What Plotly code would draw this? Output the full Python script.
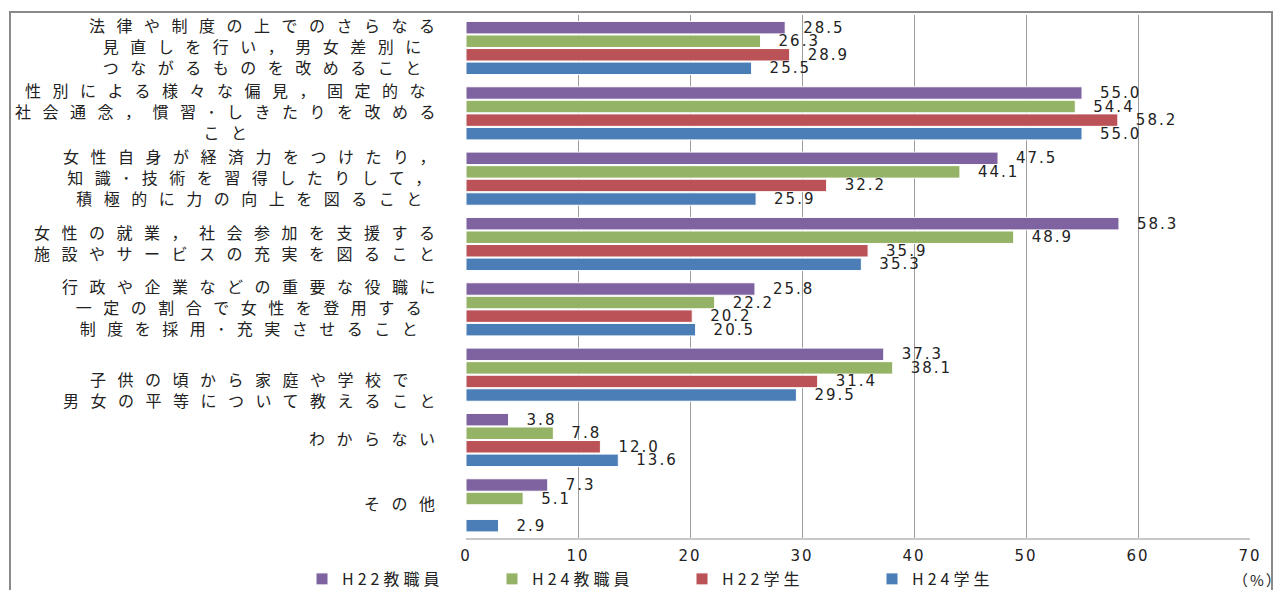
import plotly.graph_objects as go

categories = [
    "法律や制度の上でのさらなる<br>見直しを行い，男女差別に<br>つながるものを改めること",
    "性別による様々な偏見，固定的な<br>社会通念，慣習･しきたりを改める<br>こと",
    "女性自身が経済力をつけたり，<br>知識･技術を習得したりして，<br>積極的に力の向上を図ること",
    "女性の就業，社会参加を支援する<br>施設やサービスの充実を図ること",
    "行政や企業などの重要な役職に<br>一定の割合で女性を登用する<br>制度を採用･充実させること",
    "子供の頃から家庭や学校で<br>男女の平等について教えること",
    "わからない",
    "その他",
]

series_names = ["H22教職員", "H24教職員", "H22学生", "H24学生"]
h22_staff = [28.5, 55.0, 47.5, 58.3, 25.8, 37.3, 3.8, 7.3]
h24_staff = [26.3, 54.4, 44.1, 48.9, 22.2, 38.1, 7.8, 5.1]
h22_student = [28.9, 58.2, 32.2, 35.9, 20.2, 31.4, 12.0, None]
h24_student = [25.5, 55.0, 25.9, 35.3, 20.5, 29.5, 13.6, 2.9]
series_values = [h22_staff, h24_staff, h22_student, h24_student]
colors = ["#7F63A0", "#95B366", "#BA5257", "#4B7DB6"]

x_ticks = [0, 10, 20, 30, 40, 50, 60, 70]
x_tick_labels = [str(v) for v in x_ticks]
unit_label = "（%）"

W, H = 1284, 590
ML, MR, MT, MB = 466, 34, 15, 52
PW = W - ML - MR
PH = H - MT - MB


def px_x(p):
    return (p - ML) / PW


def px_y(p):
    return (H - MB - p) / PH


def spaced(t, sp):
    return '<span style="letter-spacing:%spx">%s</span>' % (sp, t)


NUM_FONT = "DejaVu Sans, Verdana, sans-serif"
JP_FONT = "Noto Sans CJK JP, sans-serif"

fig = go.Figure()
for name, vals, col in zip(series_names, series_values, colors):
    fig.add_trace(go.Bar(
        name=spaced(name, 4),
        y=categories,
        x=vals,
        orientation="h",
        marker=dict(color=col, line=dict(color="#FFFFFF", width=1)),
        texttemplate='\u2003' + spaced("%{x:.1f}", 2),
        textposition="outside",
        constraintext="none",
        cliponaxis=False,
        textfont=dict(family=NUM_FONT, size=15, color="#222222"),
        hoverinfo="skip",
    ))

for i, cat in enumerate(categories):
    fig.add_annotation(
        x=px_x(449), xref="paper", xanchor="right",
        y=cat, yref="y", yanchor="middle",
        yshift=(-17 if i == 5 else 0) + 2,
        text="<br>".join(spaced(line, 11.5) for line in cat.split("<br>")),
        showarrow=False, align="center",
        font=dict(family=JP_FONT, size=16, color="#222222"),
    )

fig.add_annotation(
    x=px_x(1258), xref="paper", xanchor="center",
    y=px_y(579), yref="paper", yanchor="middle",
    text=spaced(unit_label, 2),
    showarrow=False,
    font=dict(family=JP_FONT, size=15, color="#222222"),
)

# outer frame
fig.add_shape(
    type="rect", xref="paper", yref="paper",
    x0=px_x(10), x1=px_x(1272), y0=px_y(12), y1=px_y(640),
    line=dict(color="#8A8A8A", width=2), fillcolor="rgba(0,0,0,0)", layer="above",
)

fig.update_layout(
    width=W, height=H,
    margin=dict(l=ML, r=MR, t=MT, b=MB, autoexpand=False),
    paper_bgcolor="white", plot_bgcolor="white",
    barmode="group", bargap=0.17, bargroupgap=0.08,
    showlegend=True,
    legend=dict(
        orientation="h", x=px_x(302), xanchor="left",
        y=px_y(579), yanchor="middle",
        entrywidth=145, entrywidthmode="pixels",
        font=dict(family=JP_FONT, size=16, color="#222222"),
        traceorder="normal", itemclick=False, itemdoubleclick=False,
        bgcolor="rgba(0,0,0,0)", tracegroupgap=0,
    ),
    xaxis=dict(
        range=[0, 70], tickmode="array", tickvals=x_ticks,
        ticktext=[spaced(t, 2) for t in x_tick_labels],
        showgrid=True, gridcolor="#9C9C9C", gridwidth=1,
        zeroline=False, showline=True, linecolor="#C8C8C8", linewidth=2,
        ticks="", ticklabelstandoff=3,
        tickfont=dict(family=NUM_FONT, size=15, color="#222222"),
        fixedrange=True,
    ),
    yaxis=dict(
        type="category", autorange="reversed", showticklabels=False,
        showgrid=False, zeroline=False, showline=False, ticks="",
        fixedrange=True,
    ),
)

fig.write_html("out.html", config={"displayModeBar": False},
               post_script="document.body.style.margin='0';")
